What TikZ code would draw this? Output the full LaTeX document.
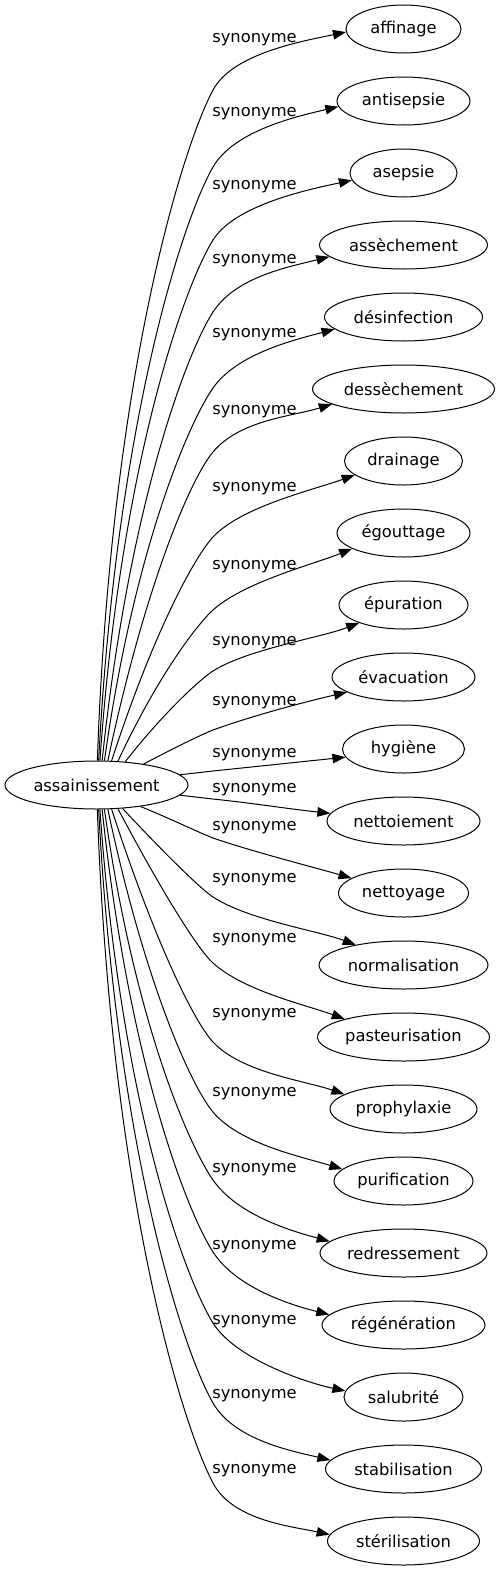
\documentclass[tikz,border=0pt]{standalone}
\usepackage{fontspec}
\setmainfont{DejaVu Sans}
\usetikzlibrary{shapes.geometric,arrows.meta}
\begin{document}
\begin{tikzpicture}[x=1pt,y=1pt,
  term/.style={ellipse,draw,line width=1pt,inner sep=0pt,minimum height=48pt,font=\fontsize{16.3}{19}\selectfont},
  rel/.style={inner sep=0pt,font=\fontsize{16.3}{19}\selectfont},
  edge/.style={line width=1pt,-{Triangle[length=13pt,width=9.5pt]}}]
\useasboundingbox (0,0) rectangle (500,-1571);
\node[term,minimum width=183pt] (root) at (96.5,-785) {assainissement};
% targets and relation labels
\foreach \word/\ty/\ly/\w [count=\i] in {affinage/29/38/115, antisepsie/101/112/133,
  asepsie/173/185/107, assèchement/245/259/168, désinfection/317/333/158,
  dessèchement/389/410/182, drainage/461/487/118, égouttage/533/565/133,
  épuration/605/641/129, évacuation/677/701/143, hygiène/749/753/122,
  nettoiement/821/788/153, nettoyage/893/826/130, normalisation/965/878/169,
  pasteurisation/1037/938/172, prophylaxie/1109/1013/147, purification/1181/1092/139,
  redressement/1253/1168/167, régénération/1325/1245/163, salubrité/1397/1320/119,
  stabilisation/1469/1394/156, stérilisation/1541/1469/152} {
\node[term,minimum width=\w pt] (t\i) at (403.5,-\ty) {\word};
\node[rel] (l\i) at (254.5,-\ly-2) {synonyme};
}
% edges: start angle / start dir / bend y / bend dir / end dir / end anchor
\foreach \i/\ba/\ta/\yb/\fa/\pa/\ea in {1/88/88/90/62/12/183, 2/85/87/167/60/13/185,
  3/82/86/240/58/12/188, 4/77/84/312/57/14/189, 5/72/82/388/55/15/190,
  6/65/78/452/50/17/192, 7/58/72/537/47/20/196, 8/48/65/610/42/22/197,
  9/39/52/671/32/21/202, 10/24/28/730/20/13/195, 11/7/6/771/6/6/188,
  12/-7/-6/799/-6/-6/174, 13/-26/-22/838/-19/-16/164, 14/-42/-47/897/-33/-20/157,
  15/-48/-62/963/-42/-20/163, 16/-58/-72/1042/-47/-19/166, 17/-65/-78/1112/-50/-17/169,
  18/-72/-82/1180/-55/-15/171, 19/-77/-84/1252/-57/-14/172, 20/-82/-86/1323/-58/-12/174,
  21/-85/-87/1403/-60/-13/173, 22/-88/-88/1483/-62/-12/175} {
\pgfmathsetmacro\dd{abs(785-\yb)}
\coordinate (b\i) at (213,-\yb);
\draw[edge] (root.\ba) .. controls +(\ta:{0.55*\dd}) and +({\fa+180}:{0.09*\dd+4}) .. (b\i)
  .. controls +(\fa:42) and +({\pa+180}:42) .. (t\i.\ea);
}
\end{tikzpicture}
\end{document}
